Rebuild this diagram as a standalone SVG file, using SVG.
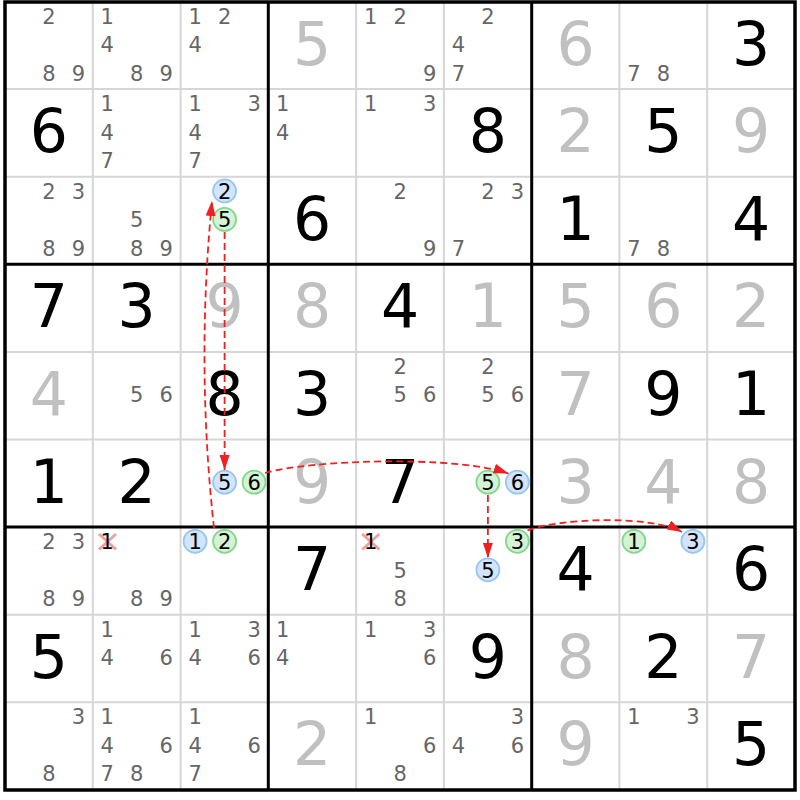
<svg xmlns="http://www.w3.org/2000/svg" width="800" height="800" viewBox="0 0 800 800">
<style>
text{font-family:"DejaVu Sans","Liberation Sans",sans-serif;text-anchor:middle}
.c{font-size:21px;fill:#666}
.k{font-size:21px;fill:#000}
.b{font-size:60px;fill:#000}
.s{font-size:60px;fill:#c0c0c0}
.thin{stroke:#d6d6d6;stroke-width:2}
.thick{stroke:#000;stroke-width:3}
.cb{fill:#d2e5fa;stroke:#96c6f2;stroke-width:1.8}
.cg{fill:#d4f2d4;stroke:#84d68c;stroke-width:1.8}
.x{stroke:#f08a8a;stroke-width:3;opacity:0.8}
.lk{fill:none;stroke:#f02020;stroke-width:1.8;stroke-dasharray:7 4;marker-end:url(#ah)}
</style>
<defs>
<marker id="ah" markerUnits="userSpaceOnUse" markerWidth="15" markerHeight="10" refX="15" refY="5" orient="auto">
<path d="M0,0 L15,5 L0,10 z" fill="#f02020"/>
</marker>
</defs>
<rect x="0" y="0" width="800" height="800" fill="#fff"/>
<g id="grid">
<path class="thin" d="M92.8,2V790M180.6,2V790M356.1,2V790M443.9,2V790M619.4,2V790M707.2,2V790M5,89.1H795M5,176.7H795M5,351.9H795M5,439.5H795M5,614.7H795M5,702.3H795"/>
<path class="thick" d="M268.3,2V790M531.7,2V790M5,264.3H795M5,527.1H795"/>
<rect x="5" y="2" width="790" height="788" fill="none" stroke="#000" stroke-width="3.5"/>
</g>
<g id="r1c1"><text class="c" x="49" y="23.5">2</text><text class="c" x="49" y="80.5">8</text><text class="c" x="78.5" y="80.5">9</text></g>
<g id="r1c2"><text class="c" x="107.3" y="23.5">1</text><text class="c" x="107.3" y="52">4</text><text class="c" x="136.8" y="80.5">8</text><text class="c" x="166.3" y="80.5">9</text></g>
<g id="r1c3"><text class="c" x="195.1" y="23.5">1</text><text class="c" x="224.6" y="23.5">2</text><text class="c" x="195.1" y="52">4</text></g>
<g id="r1c4"><text class="s" x="312.2" y="64.5">5</text></g>
<g id="r1c5"><text class="c" x="370.6" y="23.5">1</text><text class="c" x="400.1" y="23.5">2</text><text class="c" x="429.6" y="80.5">9</text></g>
<g id="r1c6"><text class="c" x="487.9" y="23.5">2</text><text class="c" x="458.4" y="52">4</text><text class="c" x="458.4" y="80.5">7</text></g>
<g id="r1c7"><text class="s" x="575.6" y="64.5">6</text></g>
<g id="r1c8"><text class="c" x="633.9" y="80.5">7</text><text class="c" x="663.4" y="80.5">8</text></g>
<g id="r1c9"><text class="b" x="751.1" y="64.5">3</text></g>
<g id="r2c1"><text class="b" x="48.9" y="152.1">6</text></g>
<g id="r2c2"><text class="c" x="107.3" y="111.1">1</text><text class="c" x="107.3" y="139.6">4</text><text class="c" x="107.3" y="168.1">7</text></g>
<g id="r2c3"><text class="c" x="195.1" y="111.1">1</text><text class="c" x="254.1" y="111.1">3</text><text class="c" x="195.1" y="139.6">4</text><text class="c" x="195.1" y="168.1">7</text></g>
<g id="r2c4"><text class="c" x="282.8" y="111.1">1</text><text class="c" x="282.8" y="139.6">4</text></g>
<g id="r2c5"><text class="c" x="370.6" y="111.1">1</text><text class="c" x="429.6" y="111.1">3</text></g>
<g id="r2c6"><text class="b" x="487.8" y="152.1">8</text></g>
<g id="r2c7"><text class="s" x="575.6" y="152.1">2</text></g>
<g id="r2c8"><text class="b" x="663.3" y="152.1">5</text></g>
<g id="r2c9"><text class="s" x="751.1" y="152.1">9</text></g>
<g id="r3c1"><text class="c" x="49" y="198.7">2</text><text class="c" x="78.5" y="198.7">3</text><text class="c" x="49" y="255.7">8</text><text class="c" x="78.5" y="255.7">9</text></g>
<g id="r3c2"><text class="c" x="136.8" y="227.2">5</text><text class="c" x="136.8" y="255.7">8</text><text class="c" x="166.3" y="255.7">9</text></g>
<g id="r3c3"><circle class="cb" cx="224.6" cy="190.9" r="11.5"/><text class="k" x="224.6" y="198.7">2</text><circle class="cg" cx="224.6" cy="219.4" r="11.5"/><text class="k" x="224.6" y="227.2">5</text></g>
<g id="r3c4"><text class="b" x="312.2" y="239.7">6</text></g>
<g id="r3c5"><text class="c" x="400.1" y="198.7">2</text><text class="c" x="429.6" y="255.7">9</text></g>
<g id="r3c6"><text class="c" x="487.9" y="198.7">2</text><text class="c" x="517.4" y="198.7">3</text><text class="c" x="458.4" y="255.7">7</text></g>
<g id="r3c7"><text class="b" x="575.6" y="239.7">1</text></g>
<g id="r3c8"><text class="c" x="633.9" y="255.7">7</text><text class="c" x="663.4" y="255.7">8</text></g>
<g id="r3c9"><text class="b" x="751.1" y="239.7">4</text></g>
<g id="r4c1"><text class="b" x="48.9" y="327.3">7</text></g>
<g id="r4c2"><text class="b" x="136.7" y="327.3">3</text></g>
<g id="r4c3"><text class="s" x="224.5" y="327.3">9</text></g>
<g id="r4c4"><text class="s" x="312.2" y="327.3">8</text></g>
<g id="r4c5"><text class="b" x="400" y="327.3">4</text></g>
<g id="r4c6"><text class="s" x="487.8" y="327.3">1</text></g>
<g id="r4c7"><text class="s" x="575.6" y="327.3">5</text></g>
<g id="r4c8"><text class="s" x="663.3" y="327.3">6</text></g>
<g id="r4c9"><text class="s" x="751.1" y="327.3">2</text></g>
<g id="r5c1"><text class="s" x="48.9" y="414.9">4</text></g>
<g id="r5c2"><text class="c" x="136.8" y="402.4">5</text><text class="c" x="166.3" y="402.4">6</text></g>
<g id="r5c3"><text class="b" x="224.5" y="414.9">8</text></g>
<g id="r5c4"><text class="b" x="312.2" y="414.9">3</text></g>
<g id="r5c5"><text class="c" x="400.1" y="373.9">2</text><text class="c" x="400.1" y="402.4">5</text><text class="c" x="429.6" y="402.4">6</text></g>
<g id="r5c6"><text class="c" x="487.9" y="373.9">2</text><text class="c" x="487.9" y="402.4">5</text><text class="c" x="517.4" y="402.4">6</text></g>
<g id="r5c7"><text class="s" x="575.6" y="414.9">7</text></g>
<g id="r5c8"><text class="b" x="663.3" y="414.9">9</text></g>
<g id="r5c9"><text class="b" x="751.1" y="414.9">1</text></g>
<g id="r6c1"><text class="b" x="48.9" y="502.5">1</text></g>
<g id="r6c2"><text class="b" x="136.7" y="502.5">2</text></g>
<g id="r6c3"><circle class="cb" cx="224.6" cy="482.2" r="11.5"/><text class="k" x="224.6" y="490">5</text><circle class="cg" cx="254.1" cy="482.2" r="11.5"/><text class="k" x="254.1" y="490">6</text></g>
<g id="r6c4"><text class="s" x="312.2" y="502.5">9</text></g>
<g id="r6c5"><text class="b" x="400" y="502.5">7</text></g>
<g id="r6c6"><circle class="cg" cx="487.9" cy="482.2" r="11.5"/><text class="k" x="487.9" y="490">5</text><circle class="cb" cx="517.4" cy="482.2" r="11.5"/><text class="k" x="517.4" y="490">6</text></g>
<g id="r6c7"><text class="s" x="575.6" y="502.5">3</text></g>
<g id="r6c8"><text class="s" x="663.3" y="502.5">4</text></g>
<g id="r6c9"><text class="s" x="751.1" y="502.5">8</text></g>
<g id="r7c1"><text class="c" x="49" y="549.1">2</text><text class="c" x="78.5" y="549.1">3</text><text class="c" x="49" y="606.1">8</text><text class="c" x="78.5" y="606.1">9</text></g>
<g id="r7c2"><path class="x" d="M99,534L116,549.5M116,534L99,549.5"/><text class="k" x="107.3" y="549.1">1</text><text class="c" x="136.8" y="606.1">8</text><text class="c" x="166.3" y="606.1">9</text></g>
<g id="r7c3"><circle class="cb" cx="195.1" cy="541.3" r="11.5"/><text class="k" x="195.1" y="549.1">1</text><circle class="cg" cx="224.6" cy="541.3" r="11.5"/><text class="k" x="224.6" y="549.1">2</text></g>
<g id="r7c4"><text class="b" x="312.2" y="590.1">7</text></g>
<g id="r7c5"><path class="x" d="M362.3,534L379.3,549.5M379.3,534L362.3,549.5"/><text class="k" x="370.6" y="549.1">1</text><text class="c" x="400.1" y="577.6">5</text><text class="c" x="400.1" y="606.1">8</text></g>
<g id="r7c6"><circle class="cg" cx="517.4" cy="541.3" r="11.5"/><text class="k" x="517.4" y="549.1">3</text><circle class="cb" cx="487.9" cy="569.8" r="11.5"/><text class="k" x="487.9" y="577.6">5</text></g>
<g id="r7c7"><text class="b" x="575.6" y="590.1">4</text></g>
<g id="r7c8"><circle class="cg" cx="633.9" cy="541.3" r="11.5"/><text class="k" x="633.9" y="549.1">1</text><circle class="cb" cx="692.9" cy="541.3" r="11.5"/><text class="k" x="692.9" y="549.1">3</text></g>
<g id="r7c9"><text class="b" x="751.1" y="590.1">6</text></g>
<g id="r8c1"><text class="b" x="48.9" y="677.7">5</text></g>
<g id="r8c2"><text class="c" x="107.3" y="636.7">1</text><text class="c" x="107.3" y="665.2">4</text><text class="c" x="166.3" y="665.2">6</text></g>
<g id="r8c3"><text class="c" x="195.1" y="636.7">1</text><text class="c" x="254.1" y="636.7">3</text><text class="c" x="195.1" y="665.2">4</text><text class="c" x="254.1" y="665.2">6</text></g>
<g id="r8c4"><text class="c" x="282.8" y="636.7">1</text><text class="c" x="282.8" y="665.2">4</text></g>
<g id="r8c5"><text class="c" x="370.6" y="636.7">1</text><text class="c" x="429.6" y="636.7">3</text><text class="c" x="429.6" y="665.2">6</text></g>
<g id="r8c6"><text class="b" x="487.8" y="677.7">9</text></g>
<g id="r8c7"><text class="s" x="575.6" y="677.7">8</text></g>
<g id="r8c8"><text class="b" x="663.3" y="677.7">2</text></g>
<g id="r8c9"><text class="s" x="751.1" y="677.7">7</text></g>
<g id="r9c1"><text class="c" x="78.5" y="724.3">3</text><text class="c" x="49" y="781.3">8</text></g>
<g id="r9c2"><text class="c" x="107.3" y="724.3">1</text><text class="c" x="107.3" y="752.8">4</text><text class="c" x="166.3" y="752.8">6</text><text class="c" x="107.3" y="781.3">7</text><text class="c" x="136.8" y="781.3">8</text></g>
<g id="r9c3"><text class="c" x="195.1" y="724.3">1</text><text class="c" x="195.1" y="752.8">4</text><text class="c" x="254.1" y="752.8">6</text><text class="c" x="195.1" y="781.3">7</text></g>
<g id="r9c4"><text class="s" x="312.2" y="765.3">2</text></g>
<g id="r9c5"><text class="c" x="370.6" y="724.3">1</text><text class="c" x="429.6" y="752.8">6</text><text class="c" x="400.1" y="781.3">8</text></g>
<g id="r9c6"><text class="c" x="517.4" y="724.3">3</text><text class="c" x="458.4" y="752.8">4</text><text class="c" x="517.4" y="752.8">6</text></g>
<g id="r9c7"><text class="s" x="575.6" y="765.3">9</text></g>
<g id="r9c8"><text class="c" x="633.9" y="724.3">1</text><text class="c" x="692.9" y="724.3">3</text></g>
<g id="r9c9"><text class="b" x="751.1" y="765.3">5</text></g>
<g id="links">
<path class="lk" d="M214,528 Q196,365 212,201"/>
<path class="lk" d="M224.6,232 L224.6,470"/>
<path class="lk" d="M265,473 C310,460 455,455 508.5,473.5"/>
<path class="lk" d="M487.9,495 L487.9,558"/>
<path class="lk" d="M527.5,530.5 C560,518 650,515 682,532"/>
</g>
</svg>
